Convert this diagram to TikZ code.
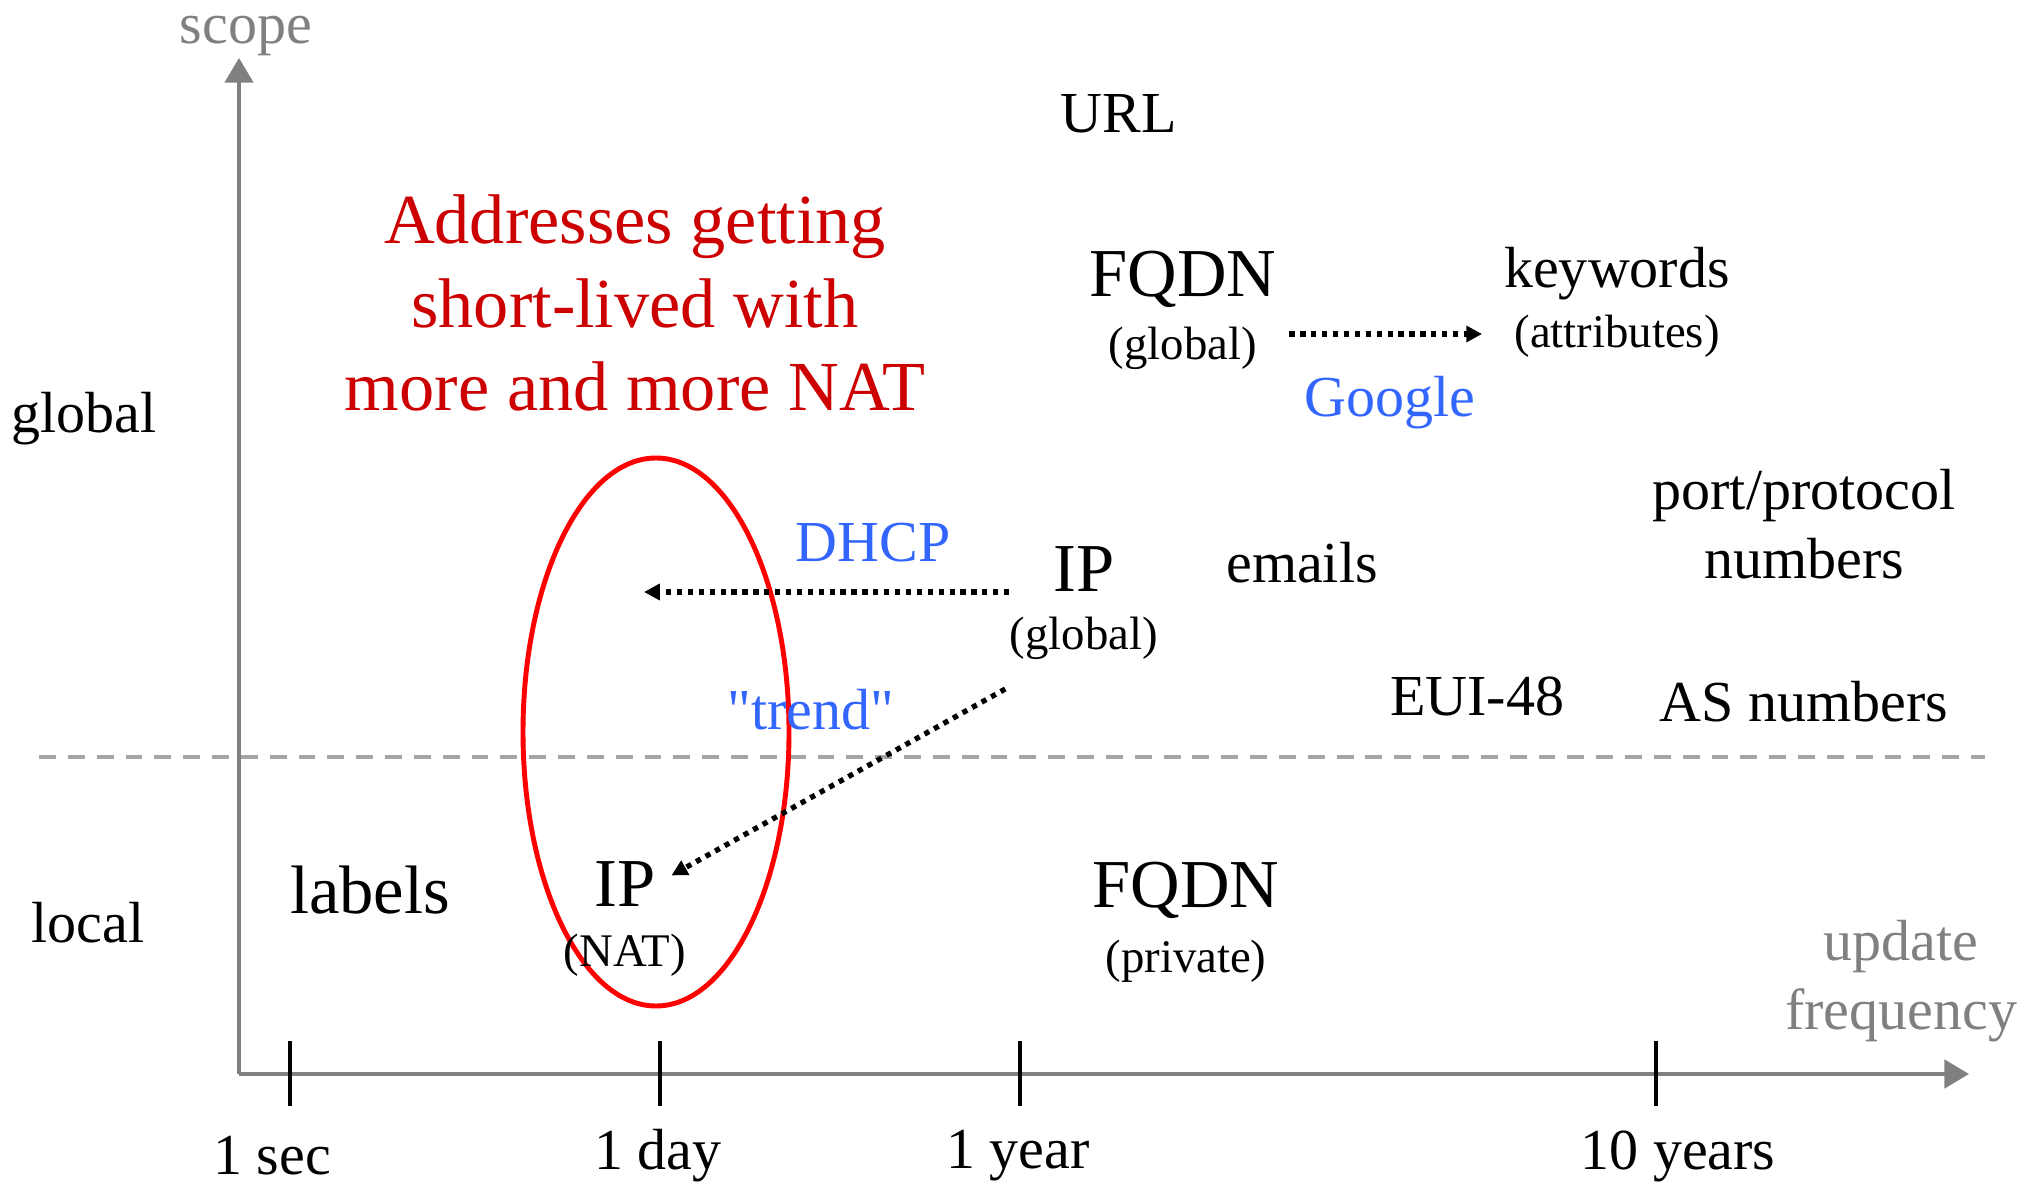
\documentclass[tikz,border=0pt]{standalone}
\usepackage{fontspec}
\setmainfont{Liberation Serif}
\newfontfamily\plainserif{Liberation Serif}
\usepackage{tikz}
\usetikzlibrary{arrows.meta, calc}

\definecolor{axisgray}{RGB}{128,128,128}
\definecolor{dashgray}{RGB}{165,165,165}
\definecolor{natred}{RGB}{204,0,0}
\definecolor{ringred}{RGB}{255,0,0}
\definecolor{protoblue}{RGB}{51,102,255}

\begin{document}
\begin{tikzpicture}[x=0.01cm, y=-0.01cm, inner sep=0pt,
  axis/.style={line width=1.2pt, axisgray, -{Triangle[length=7pt, width=8pt]}},
  tickmark/.style={line width=1.4pt},
  dotarrow/.style={line width=1.5pt, dash pattern=on 1.5pt off 1.6pt, -{Triangle[length=4.5pt, width=4.5pt]}},
  big/.style={font=\fontsize{19.5}{23}\selectfont},
  mid/.style={font=\fontsize{16.5}{19.6}\selectfont, align=center},
  small/.style={font=\fontsize{13.3}{16}\selectfont},
  graylabel/.style={mid, text=axisgray},
  bluelabel/.style={mid, text=protoblue}]
\useasboundingbox (0,0) rectangle (2028,1183);

\coordinate (origin) at (239,1074);
\draw[axis] (origin) -- (239,58);
\draw[axis] (origin) -- (1969,1074);
\draw[dashgray, line width=1.1pt, dash pattern=on 4.8pt off 3.4pt] (39,757) -- (1985,757);

\foreach \x in {290,660,1020,1656}
  \draw[tickmark] (\x,1041) -- (\x,1106);
\node[mid] (sec) at (272,1156) {1 sec};
\node[mid] (day) at (658,1156) {1 day};
\node[mid] (year) at (1018,1156) {1 year};
\node[mid] (tenyears) at (1678,1156) {10 years};

\node[graylabel] (scope) at (246,36) {scope};
\node[graylabel] (update) at (1901,981) {update\\frequency};
\node[mid] (global) at (84,419) {global};
\node[mid] (local) at (88,923) {local};

\node[text=natred, align=center, font=\fontsize{20}{23.7}\selectfont] (nattext) at (635,303)
  {Addresses getting\\short-lived with\\more and more NAT};
\draw[ringred, line width=1.4pt] (656,732) ellipse [x radius=133, y radius=274];

\node[mid] (url) at (1119,114) {URL};
\node[big] (fqdng) at (1183,279) {FQDN};
\node[small] (fqdngsub) at (1183,348) {(global)};
\node[mid] (kw) at (1617,274) {keywords};
\node[small] (kwsub) at (1617,336) {(attributes)};
\node[bluelabel] (google) at (1390,403) {Google};
\draw[dotarrow, shorten <=9pt, shorten >=9pt] (fqdngsub.east |- 0,334) -- (kwsub.west |- 0,334);

\node[mid] (port) at (1804,524) {port/protocol\\numbers};
\node[mid] (emails) at (1302,563) {emails};
\node[mid] (eui) at (1477,696) {EUI-48};
\node[mid] (asn) at (1804,702) {AS numbers};

\node[big] (ipg) at (1084,569) {IP};
\node[small] (ipgsub) at (1084,638) {(global)};
\node[bluelabel] (dhcp) at (873,543) {DHCP};
\node[bluelabel] (trend) at (811,710) {\plainserif"trend"};
\coordinate (dhcpend) at (644,592);

\node[big] (labels) at (370,890) {labels};
\node[big] (ipn) at (625,884) {IP};
\node[small] (ipnsub) at (625,955) {(NAT)};
\node[big] (fqdnp) at (1186,890) {FQDN};
\node[small] (fqdnpsub) at (1186,961) {(private)};

\draw[dotarrow] (ipgsub.west |- dhcpend) -- (dhcpend);
\draw[dotarrow, shorten >=5pt] ($(ipgsub.south west)+(-4,29)$) -- (ipn.east);
\end{tikzpicture}
\end{document}
